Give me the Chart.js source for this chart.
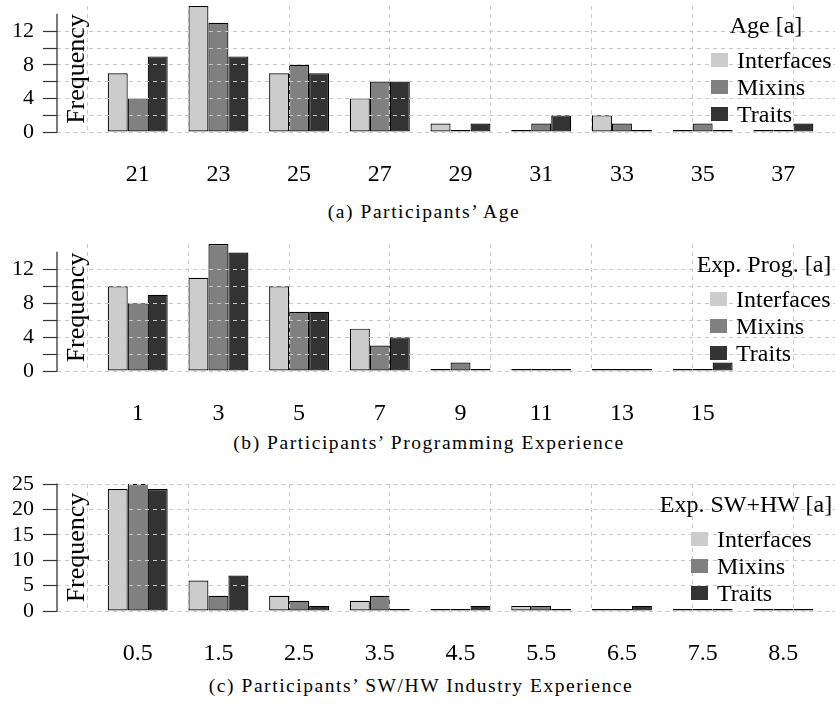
<!DOCTYPE html>
<html>
<head>
<meta charset="utf-8">
<script src="https://cdn.jsdelivr.net/npm/chart.js@4.4.1/dist/chart.umd.min.js"></script>
<style>
  body { margin:0; background:#fff; width:835px; height:706px; overflow:hidden; font-family:"Liberation Serif", serif; color:#000; }
  .panel { position:absolute; left:0; width:835px; }
  .panel canvas { position:absolute; left:0; top:0; }
  .cap { position:absolute; font-family:"Liberation Serif", serif; font-size:19.5px; letter-spacing:1.55px; line-height:1; white-space:nowrap; transform:translate(-50%,-50%); }
  .lg { position:absolute; font-family:"Liberation Serif", serif; font-size:24px; line-height:28px; height:28px; white-space:nowrap; }
  .sw { position:absolute; width:17px; height:14px; }
</style>
</head>
<body>
<div class="panel" id="pa" style="top:0; height:190px"><canvas id="ca" width="835" height="190"></canvas></div>
<div class="cap" style="left:424px; top:212px">(a) Participants’ Age</div>
<div class="panel" id="pb" style="top:239px; height:190px"><canvas id="cb" width="835" height="190"></canvas></div>
<div class="cap" style="left:429px; top:443px">(b) Participants’ Programming Experience</div>
<div class="panel" id="pc" style="top:469px; height:200px"><canvas id="cc" width="835" height="200"></canvas></div>
<div class="cap" style="left:421px; top:686px">(c) Participants’ SW/HW Industry Experience</div>

<script>
// series shared by all three panels
const seriesNames  = ['Interfaces', 'Mixins', 'Traits'];
const seriesColors = ['#cccccc', '#808080', '#333333'];

// (a) age
const ageLabels     = ['21', '23', '25', '27', '29', '31', '33', '35', '37'];
const ageInterfaces = [7, 15, 7, 4, 1, 0, 2, 0, 0];
const ageMixins     = [4, 13, 8, 6, 0, 1, 1, 1, 0];
const ageTraits     = [9, 9, 7, 6, 1, 2, 0, 0, 1];
const ageYTicks     = [0, 4, 8, 12];

// (b) programming experience
const progLabels     = ['1', '3', '5', '7', '9', '11', '13', '15'];
const progInterfaces = [10, 11, 10, 5, 0, 0, 0, 0];
const progMixins     = [8, 15, 7, 3, 1, 0, 0, 0];
const progTraits     = [9, 14, 7, 4, 0, 0, 0, 1];
const progYTicks     = [0, 4, 8, 12];

// (c) SW/HW industry experience
const indLabels     = ['0.5', '1.5', '2.5', '3.5', '4.5', '5.5', '6.5', '7.5', '8.5'];
const indInterfaces = [24, 6, 3, 2, 0, 1, 0, 0, 0];
const indMixins     = [25, 3, 2, 3, 0, 1, 0, 0, 0];
const indTraits     = [24, 7, 1, 0, 1, 0, 1, 0, 0];
const indYTicks     = [0, 5, 10, 15, 20, 25];

const FONT = '"Liberation Serif"';
const GRID = '#c8c8c8';
const X_MIN = -1, X_MAX = 8.64;          // index range of the plot
const VGRID_START = -0.625, VGRID_STEP = 1.25;

// y axis line only up to the last tick, plus the inner "Frequency" label
const axisDeco = {
  id: 'axisDeco',
  afterDraw(chart, args, opts) {
    const ctx = chart.ctx;
    const a = chart.chartArea;
    const y = chart.scales.y;
    const y0 = y.getPixelForValue(0), y1 = y.getPixelForValue(opts.top);
    const xl = Math.round(a.left);
    ctx.save();
    ctx.setLineDash([]);
    ctx.strokeStyle = '#333';
    ctx.lineWidth = 1.3;
    ctx.beginPath();
    ctx.moveTo(xl, y0 + 0.6);
    ctx.lineTo(xl, y1 - 0.6);
    ctx.stroke();
    ctx.restore();

    ctx.save();
    ctx.translate(a.left + 27, (a.top + a.bottom) / 2);
    ctx.rotate(-Math.PI / 2);
    ctx.font = '26px ' + FONT;
    ctx.fillStyle = '#000';
    ctx.textAlign = 'center';
    ctx.textBaseline = 'alphabetic';
    ctx.fillText('Frequency', 0, 0);
    ctx.restore();
  }
};

const charts = [];

function makePanel(p) {
  const datasets = p.series.map((vals, k) => ({
    label: seriesNames[k],
    data: vals.map((v, i) => ({ x: i, y: v })),
    backgroundColor: seriesColors[k],
    borderColor: '#000',
    borderWidth: 1.2,
    borderSkipped: false,
    inflateAmount: 0,
    minBarLength: 2,
    xAxisID: 'x',
    yAxisID: 'y'
  }));

  charts.push(new Chart(document.getElementById(p.canvas), {
    type: 'bar',
    data: { datasets },
    options: {
      responsive: false,
      animation: false,
      devicePixelRatio: 1,
      categoryPercentage: 0.743,
      barPercentage: 1,
      layout: { padding: { top: p.padTop, left: 0, right: 0, bottom: 0 } },
      plugins: {
        legend: { display: false },
        tooltip: { enabled: false },
        axisDeco: { top: p.axisTop }
      },
      scales: {
        x: {
          type: 'linear', min: X_MIN, max: X_MAX, offset: false,
          afterBuildTicks: s => { s.ticks = []; for (let i = -1; i <= 8; i++) s.ticks.push({ value: i }); },
          afterFit: s => { s.height = 58; s.paddingLeft = 0; s.paddingRight = 0; },
          ticks: {
            callback: v => p.labels[v] ?? '',
            font: { family: FONT, size: 24 }, color: '#000',
            padding: 28, maxRotation: 0, autoSkip: false
          },
          grid: { display: false, drawTicks: false, offset: false },
          border: { display: false }
        },
        xg: {
          type: 'linear', position: 'bottom', min: X_MIN, max: X_MAX, offset: false,
          afterBuildTicks: s => {
            s.ticks = [];
            for (let v = VGRID_START; v < X_MAX; v += VGRID_STEP) s.ticks.push({ value: v });
          },
          afterFit: s => { s.height = 0; s.paddingLeft = 0; s.paddingRight = 0; },
          ticks: { display: false },
          grid: { color: GRID, lineWidth: 1, drawTicks: false, z: 1, offset: false },
          border: { display: false, dash: [4, 4] }
        },
        y: {
          min: 0, max: p.yMax,
          afterBuildTicks: s => { s.ticks = s.ticks.filter(t => t.value <= p.axisTop); },
          afterFit: s => { s.width = 57; s.paddingTop = 0; s.paddingBottom = 0; },
          ticks: {
            stepSize: p.yStep, autoSkip: false,
            callback: v => p.yTicks.includes(v) ? String(v) : '',
            font: { family: FONT, size: 22 }, color: '#000', padding: 9
          },
          grid: {
            color: GRID, lineWidth: 1, z: 1,
            drawTicks: true, tickLength: 14, tickColor: '#333', tickWidth: 1.2, tickBorderDash: []
          },
          border: { display: false, dash: [4, 4] }
        }
      }
    },
    plugins: [axisDeco]
  }));

  // legend as page text
  const host = document.getElementById(p.panel);
  const off = p.legendTop;
  const title = document.createElement('div');
  title.className = 'lg';
  title.textContent = p.legendTitle;
  title.style.left = p.titleCx + 'px';
  title.style.top = (off + 25 - 14) + 'px';
  title.style.transform = 'translateX(-50%)';
  host.appendChild(title);
  const rows = [60, 87, 113.5];
  seriesNames.forEach((name, k) => {
    const sw = document.createElement('div');
    sw.className = 'sw';
    sw.style.background = seriesColors[k];
    sw.style.left = p.boxLeft + 'px';
    sw.style.top = (off + rows[k] - 7) + 'px';
    host.appendChild(sw);
    const tx = document.createElement('div');
    tx.className = 'lg';
    tx.textContent = name;
    tx.style.left = (p.boxLeft + 26) + 'px';
    tx.style.top = (off + rows[k] - 14) + 'px';
    host.appendChild(tx);
  });
}

makePanel({
  canvas: 'ca', panel: 'pa', padTop: 6, legendTop: 0,
  labels: ageLabels, series: [ageInterfaces, ageMixins, ageTraits],
  yMax: 15, axisTop: 14, yStep: 2, yTicks: ageYTicks,
  legendTitle: 'Age [a]', titleCx: 766, boxLeft: 711
});
makePanel({
  canvas: 'cb', panel: 'pb', padTop: 5, legendTop: 0,
  labels: progLabels, series: [progInterfaces, progMixins, progTraits],
  yMax: 15, axisTop: 14, yStep: 2, yTicks: progYTicks,
  legendTitle: 'Exp. Prog. [a]', titleCx: 764, boxLeft: 710
});
makePanel({
  canvas: 'cc', panel: 'pc', padTop: 15, legendTop: 10,
  labels: indLabels, series: [indInterfaces, indMixins, indTraits],
  yMax: 25, axisTop: 25, yStep: 5, yTicks: indYTicks,
  legendTitle: 'Exp. SW+HW [a]', titleCx: 746, boxLeft: 691
});

// redraw once the serif face is ready so canvas text uses it
if (document.fonts && document.fonts.load) {
  Promise.all([
    document.fonts.load('24px "Liberation Serif"'),
    document.fonts.load('26px "Liberation Serif"')
  ]).then(() => charts.forEach(c => c.update()));
}
</script>
</body>
</html>
